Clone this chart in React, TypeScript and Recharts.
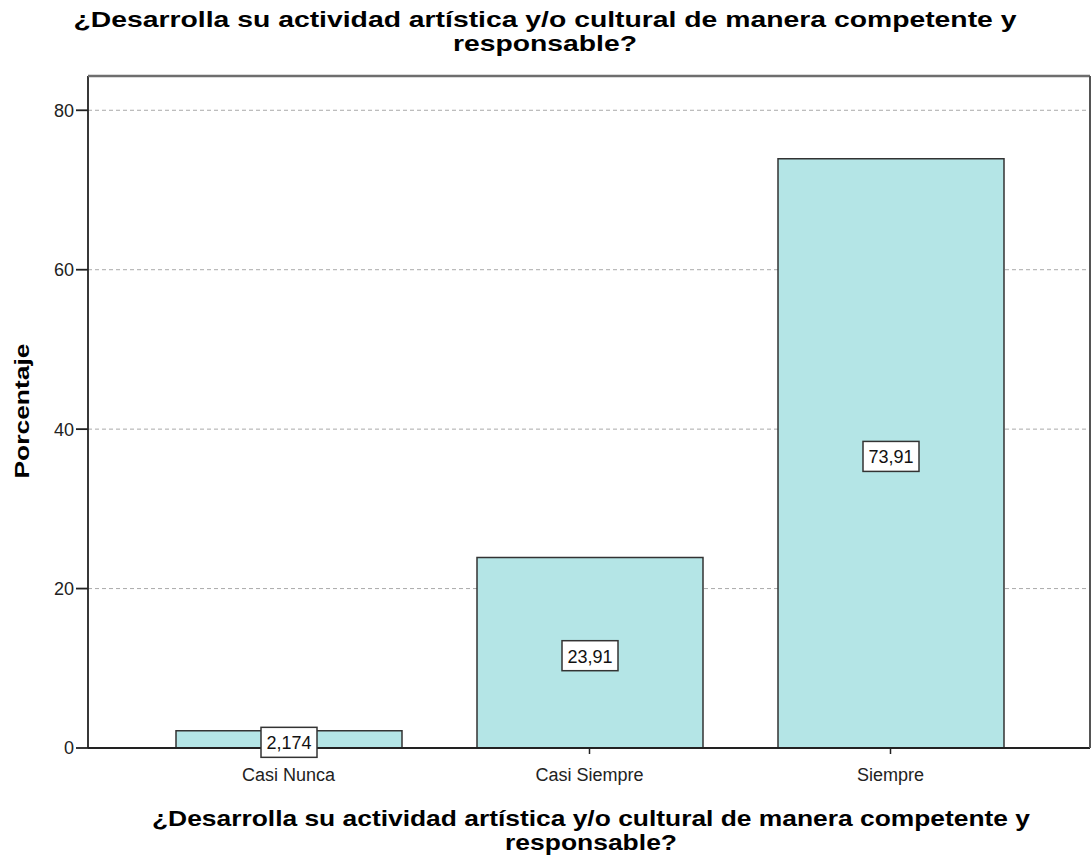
import React from 'react';
import { BarChart, Bar, XAxis, YAxis, CartesianGrid, LabelList } from 'recharts';

const categories = ['Casi Nunca', 'Casi Siempre', 'Siempre'];
const percentages = [2.174, 23.91, 73.91];
const yTicks = [0, 20, 40, 60, 80];

const titleLines = [
    '¿Desarrolla su actividad artística y/o cultural de manera competente y',
    'responsable?',
];

const data = categories.map((name, i) => ({ name, pct: percentages[i] }));

const FONT = '"Liberation Sans", Arial, sans-serif';

const ValueBox = (props: any) => {
    const { x, y, width, height, value } = props;
    const text = String(value).replace('.', ',');
    const cx = x + width / 2;
    const cy = y + height / 2 + 3;
    const w = 56;
    const h = 30;
    return (
        <g>
            <rect x={cx - w / 2} y={cy - h / 2} width={w} height={h} fill="#fff" stroke="#333" strokeWidth={1.5} />
            <text x={cx} y={cy + 7} textAnchor="middle" fontSize={18} fontFamily={FONT} fill="#111">
                {text}
            </text>
        </g>
    );
};

export default function App() {
    // plot frame edges (layout only)
    const left = 88, right = 1090, top = 76, bottom = 748;
    return (
        <div style={{ position: 'absolute', left: 0, top: 0, width: 1092, height: 855, background: '#fff', fontFamily: FONT }}>
            <BarChart
                width={1092}
                height={855}
                data={data}
                margin={{ top: top, right: 1092 - right, bottom: 77, left: 0 }}
                style={{ position: 'absolute', left: 0, top: 0 }}
            >
                <CartesianGrid vertical={false} stroke="#aaa" strokeDasharray="4 3" />
                <XAxis
                    dataKey="name"
                    padding={{ left: 50, right: 49 }}
                    height={30}
                    axisLine={{ stroke: '#222', strokeWidth: 1.8 }}
                    tickLine={{ stroke: '#222', strokeWidth: 1.5 }}
                    tickSize={6}
                    tickMargin={14}
                    tick={{ fill: '#222', fontSize: 18, fontFamily: FONT }}
                />
                <YAxis
                    domain={[0, 84.3]}
                    ticks={yTicks}
                    width={left}
                    allowDataOverflow
                    axisLine={{ stroke: '#222', strokeWidth: 1.8 }}
                    tickLine={{ stroke: '#222', strokeWidth: 1.8 }}
                    tickSize={12}
                    tick={{ fill: '#222', fontSize: 18, fontFamily: FONT }}
                />
                <Bar
                    dataKey="pct"
                    fill="#b4e5e6"
                    stroke="#333"
                    strokeWidth={1.5}
                    barSize={226}
                    isAnimationActive={false}
                >
                    <LabelList dataKey="pct" content={ValueBox} />
                </Bar>
            </BarChart>
            <svg width={1092} height={855} style={{ position: 'absolute', left: 0, top: 0, pointerEvents: 'none' }}>
                <line x1={left} y1={top} x2={right} y2={top} stroke="#6e6e6e" strokeWidth={2.5} />
                <line x1={right} y1={top} x2={right} y2={bottom} stroke="#555" strokeWidth={2} />
                {titleLines.map((t, i) => (
                    <text key={'t' + i} x={545} y={27 + i * 24} textAnchor="middle" fontSize={22} fontWeight="bold" fontFamily={FONT} fill="#000"
                        textLength={i === 0 ? 943 : 184} lengthAdjust="spacingAndGlyphs">
                        {t}
                    </text>
                ))}
                {titleLines.map((t, i) => (
                    <text key={'b' + i} x={591} y={826 + i * 24} textAnchor="middle" fontSize={22} fontWeight="bold" fontFamily={FONT} fill="#000"
                        textLength={i === 0 ? 878 : 172} lengthAdjust="spacingAndGlyphs">
                        {t}
                    </text>
                ))}
                <text x={29} y={411} transform="rotate(-90 29 411)" textAnchor="middle" fontSize={21} fontWeight="bold" fontFamily={FONT} fill="#000"
                    textLength={135} lengthAdjust="spacingAndGlyphs">
                    Porcentaje
                </text>
            </svg>
        </div>
    );
}
